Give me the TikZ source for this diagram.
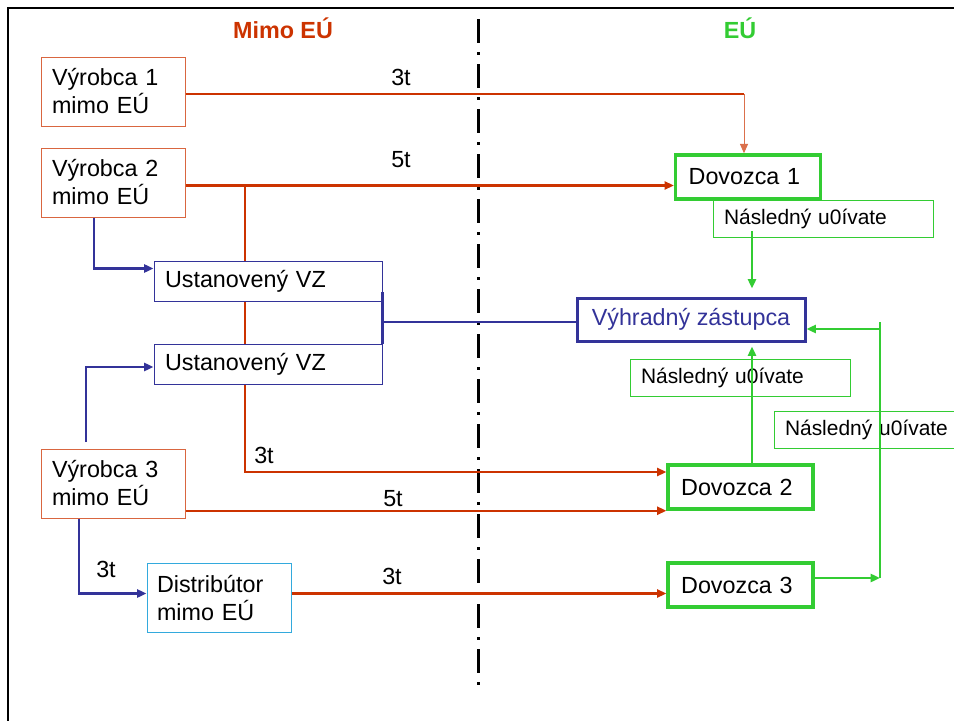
\documentclass[tikz,border=0pt]{standalone}
\usepackage{fontspec}
\setmainfont{Liberation Sans}
\usepackage{tikz}
\usetikzlibrary{arrows.meta}
\definecolor{mred}{RGB}{204,51,0}
\definecolor{mblue}{RGB}{51,51,153}
\definecolor{mgreen}{RGB}{51,204,51}
\definecolor{mcyan}{RGB}{51,170,221}

\begin{document}
\begin{tikzpicture}[x=0.75pt, y=-0.75pt,
  every node/.style={font=\fontsize{17.5}{21}\selectfont},
  tip/.style={-{Triangle[length=7pt,width=6pt]}},
  vyr/.style={draw=mred!75, line width=0.75pt, fill=white, minimum height=51.75pt,
    text width=91.5pt, inner xsep=8.25pt, align=left},
  uvz/.style={draw=mblue, line width=0.75pt, fill=white, minimum height=30pt,
    text width=154.5pt, inner xsep=8.25pt, align=left},
  dov/.style={draw=mgreen, line width=2.6pt, fill=white, minimum height=33pt,
    text width=89pt, inner xsep=9.75pt, align=left},
  lab/.style={draw=mgreen, line width=0.75pt, minimum height=27.75pt,
    text width=148.5pt, inner xsep=8.25pt, align=left, font=\fontsize{15.7}{18}\selectfont},
  rline/.style={draw=mred, line width=1.8pt},
  bline/.style={draw=mblue, line width=1.8pt},
  gline/.style={draw=mgreen, line width=1.8pt}]
  \useasboundingbox (0, 0) rectangle (954, 721);
  \draw[line width=1.5pt] (8, 721) -- (8, 8) -- (960, 8);
  \draw[line width=2.25pt, dash pattern=on 18pt off 6.75pt on 2.25pt off 6.75pt] (478, 19) -- (478, 685);

  \node[text=mred, font=\bfseries\fontsize{17.5}{21}\selectfont] at (283, 28) (mimo) {Mimo EÚ};
  \node[text=mgreen, font=\bfseries\fontsize{17.5}{21}\selectfont] at (740, 28) (eu) {EÚ};

  \node[vyr] at (113, 91.5) (v1) {Výrobca 1\\mimo EÚ};
  \node[vyr] at (113, 182.5) (v2) {Výrobca 2\\mimo EÚ};
  \node[vyr] at (113, 483.5) (v3) {Výrobca 3\\mimo EÚ};
  \node[vyr, draw=mcyan, text width=93pt, inner xsep=7.5pt] at (219, 598) (dist) {Distribútor\\mimo EÚ};
  \node[uvz] at (268, 281) (u1) {Ustanovený VZ};
  \node[uvz] at (268, 364) (u2) {Ustanovený VZ};
  \node[dov] at (748, 177) (d1) {Dovozca 1};
  \node[dov] at (740.5, 487) (d2) {Dovozca 2};
  \node[dov] at (740.5, 585) (d3) {Dovozca 3};
  \node[draw=mblue, line width=2.25pt, text=mblue, minimum width=171pt, minimum height=32.25pt] at (691, 319.5) (vyh) {Výhradný zástupca};
  \node[lab] at (823, 218.5) (n1) {Následný u0ívate};
  \node[lab] at (740, 377.5) (n2) {Následný u0ívate};
  \node[lab] at (884, 430) (n3) {Následný u0ívate};

  \coordinate (k1) at (744, 94);
  \coordinate (k2) at (245, 185.5);
  \coordinate (k3) at (245, 472);
  \coordinate (k4) at (880, 578);
  \draw[rline] (v1.east |- k1) -- (k1);
  \draw[draw=mred!70, line width=0.75pt, tip] (k1) -- (k1 |- d1.north);
  \draw[rline, tip] (v2.east |- k2) -- (d1.west |- k2);
  \draw[rline] (k2) -- (k2 |- u1.north);
  \draw[rline] (k2 |- u1.south) -- (k2 |- u2.north);
  \draw[rline, tip] (k2 |- u2.south) |- (d2.west |- k3);
  \draw[rline, tip] (v3.east |- d2.south) -- (d2.south west);
  \draw[rline, tip] (dist.east |- 0, 593.5) -- (d3.west |- 0, 593.5);

  \draw[bline, tip] (v2.south -| 94, 0) |- (u1.west |- 0, 268.5);
  \draw[bline, tip] (86, 442) |- (u2.west |- 0, 367);
  \draw[bline, tip] (v3.south -| 79, 0) |- (dist.west |- 0, 593.5);
  \draw[draw=mblue, line width=2.25pt] (u1.east |- 0, 292) -- (u2.north east);
  \draw[bline] (382, 322) -- (vyh.west |- 0, 322);

  \draw[gline, tip, shorten >=6pt] (752, 231) -- (752 ,0 |- vyh.north);
  \draw[gline, tip, shorten >=3pt] (d2.north -| 752, 0) -- (752, 0 |- vyh.south);
  \draw[gline, tip] (d3.east |- k4) -- (k4);
  \draw[draw=mgreen, line width=2pt] (880, 322) -- (k4);
  \draw[gline, tip] (880, 329) -- (vyh.east |- 0, 329);

  \node at (401, 77) (t1) {3t};
  \node at (401, 160) (t2) {5t};
  \node at (264, 455) (t3) {3t};
  \node at (393, 499) (t4) {5t};
  \node at (392, 576) (t5) {3t};
  \node at (106, 569) (t6) {3t};
\end{tikzpicture}
\end{document}
